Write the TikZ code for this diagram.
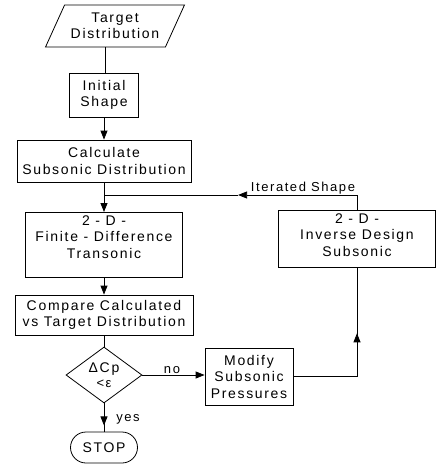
\documentclass[tikz,border=0pt]{standalone}
\usepackage{fontspec}
\setmainfont{Liberation Sans}[LetterSpace=12]
\usetikzlibrary{shapes.geometric,shapes.misc,arrows.meta,decorations.markings,calc}
\begin{document}
\begin{tikzpicture}[x=1pt,y=-1pt,
  base/.style={draw, line width=0.8pt, align=center, font=\fontsize{14}{16.5}\selectfont, inner sep=2pt},
  box/.style={base, rectangle},
  io/.style={base, trapezium, trapezium left angle=60, trapezium right angle=120, trapezium stretches=true},
  decide/.style={base, diamond, aspect=1.36, inner sep=0pt},
  term/.style={base, rounded rectangle},
  flow/.style={line width=0.8pt},
  tip/.style={-{Triangle[length=9pt,width=7pt]}},
  arr/.style={flow, tip},
  midarr/.style={flow, postaction=decorate, decoration={markings, mark=at position #1 with {\arrow{Triangle[length=9pt,width=7pt]}}}},
  lbl/.style={font=\fontsize{13}{15}\selectfont, inner sep=0pt}
]
\useasboundingbox (0,0) rectangle (436,466);

\node[io, minimum width=139pt, minimum height=42pt] (target) at (115,26) {Target\\Distribution};
\node[box, minimum width=69pt, minimum height=44pt] (init) at (104,95) {Initial\\Shape};
\node[box, minimum width=174pt, minimum height=42pt] (calc) at (104,161) {Calculate\\Subsonic Distribution};
\coordinate (junc) at (104,195);
\node[box, anchor=north, minimum width=157pt, text height=43pt, text depth=16pt, inner ysep=3pt] (finite) at (104,212) {2 - D -\\Finite - Difference\\Transonic};
\node[box, anchor=north, minimum width=157pt, text height=43pt, text depth=8pt, inner ysep=3pt] (inverse) at (357,210) {2 - D -\\Inverse Design\\Subsonic};
\coordinate (turn) at (inverse.north |- junc);
\coordinate (itip) at ($(turn)!0.47!(junc)$);
\node[box, minimum width=178pt, minimum height=40pt] (compare) at (104,315) {Compare Calculated\\vs Target Distribution};
\node[decide, minimum width=76pt, minimum height=56pt] (dec) at (104,375) {ΔCp\\[-2pt]{\fontsize{13}{13}\selectfont <ε}};
\node[box, minimum width=88pt, minimum height=57pt] (modify) at (249,376.5) {Modify\\Subsonic\\Pressures};
\node[term, minimum width=71pt, minimum height=31pt] (stop) at (104,447.5) {STOP};

\draw[flow] (target.bottom side) -- (target.bottom side |- init.north);
\draw[arr] (init.south) -- (calc.north);
\draw[flow] (calc.south) -- (junc);
\draw[arr] (junc) -- (finite.north);
\draw[flow] (inverse.north) -- (turn);
\draw[arr] (turn) -- (itip);
\draw[flow] (itip) -- (junc);
\node[lbl, anchor=base] (iter) at (303,191) {Iterated Shape};
\draw[arr] (finite.south) -- (compare.north);
\draw[flow] (compare.south) -- (dec.north);
\draw[arr] (dec.east) -- (modify.west |- dec.east);
\node[lbl, anchor=base] (no) at (172,373) {no};
\draw[midarr=0.62] (modify.east) -| (inverse.south);
\draw[midarr=0.78] (dec.south) -- (stop.north);
\node[lbl, anchor=base] (yes) at (128,421) {yes};
\end{tikzpicture}
\end{document}
